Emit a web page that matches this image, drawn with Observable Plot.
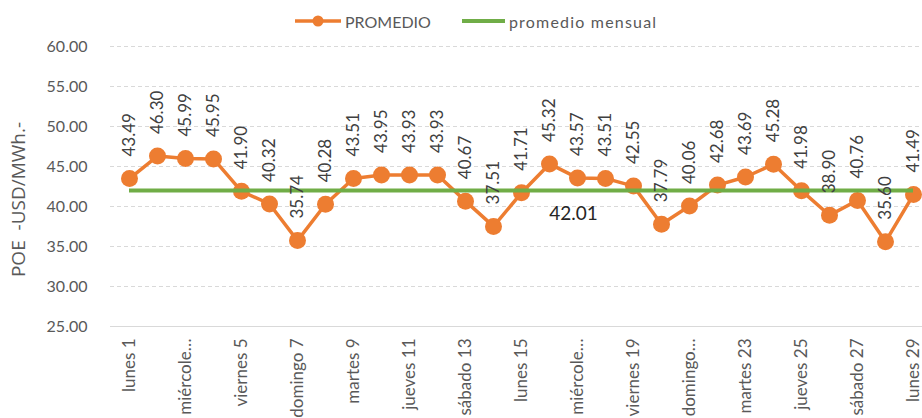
<!DOCTYPE html>
<html>
<head>
<meta charset="utf-8">
<script src="https://cdn.jsdelivr.net/npm/d3@7"></script>
<script src="https://cdn.jsdelivr.net/npm/@observablehq/plot@0.6"></script>
<style>
  body { margin: 0; background: #fff; font-family: Lato, "Open Sans", sans-serif; }
  #wrap { position: relative; width: 922px; height: 418px; overflow: hidden; }
  #legend { position: absolute; top: 8px; left: 295px; display: flex; align-items: center; font-size: 16px; color: #595959; height: 26px; }
  .item { display: flex; align-items: center; }
  #chart { position: absolute; top: 36px; left: 0; }
</style>
</head>
<body>
<div id="wrap">
  <div id="legend">
    <div class="item">
      <svg width="46" height="16"><line x1="0" x2="46" y1="8" y2="8" stroke="#ED7D31" stroke-width="3.5"/><circle cx="23" cy="8" r="5.5" fill="#ED7D31"/></svg>
      <span style="margin-left:4px">PROMEDIO</span>
    </div>
    <div class="item" style="margin-left:31px">
      <svg width="43" height="16"><line x1="0" x2="43" y1="8" y2="8" stroke="#70AD47" stroke-width="4"/></svg>
      <span style="margin-left:4px;letter-spacing:1.2px">promedio mensual</span>
    </div>
  </div>
  <div id="chart"></div>
</div>
<script>
const days = [1,2,3,4,5,6,7,8,9,10,11,12,13,14,15,16,17,18,19,20,21,22,23,24,25,26,27,28,29];
const promedio = [43.49,46.30,45.99,45.95,41.90,40.32,35.74,40.28,43.51,43.95,43.93,43.93,40.67,37.51,41.71,45.32,43.57,43.51,42.55,37.79,40.06,42.68,43.69,45.28,41.98,38.90,40.76,35.60,41.49];
const promedioMensual = 42.01;
const dayLabels = ["lunes 1","martes 2","miércole…","jueves 4","viernes 5","sábado 6","domingo 7","lunes 8","martes 9","miércoles 10","jueves 11","viernes 12","sábado 13","domingo 14","lunes 15","martes 16","miércole…","jueves 18","viernes 19","sábado 20","domingo…","lunes 22","martes 23","miércoles 24","jueves 25","viernes 26","sábado 27","domingo 28","lunes 29"];
const shownDays = [1,3,5,7,9,11,13,15,17,19,21,23,25,27,29];
const yTicks = [25,30,35,40,45,50,55,60];
const yTitle = "POE\u00a0\u00a0-USD/MWh.-";
const mensualLabelDay = 17;

const data = days.map((d, i) => ({day: d, value: promedio[i]}));
const fmt = v => v.toFixed(2);

const chart = Plot.plot({
  width: 922,
  height: 382,
  marginLeft: 110,
  marginRight: 0,
  marginTop: 10,
  marginBottom: 92,
  style: {fontFamily: "Lato, 'Open Sans', sans-serif", background: "transparent", overflow: "visible"},
  x: {type: "point", domain: days, range: [124, 917], padding: 0, axis: null},
  y: {domain: [25, 60], axis: null},
  marks: [
    Plot.ruleY(yTicks.filter(t => t !== 25), {stroke: "#D9D9D9", strokeWidth: 1, strokeDasharray: "4,3"}),
    Plot.ruleY([25], {stroke: "#D9D9D9", strokeWidth: 1}),
    Plot.text(yTicks, {y: d => d, text: d => fmt(d), frameAnchor: "left", textAnchor: "end", dx: -23, fontSize: 16, fill: "#595959"}),
    Plot.text([yTitle], {frameAnchor: "left", textAnchor: "middle", lineAnchor: "middle", rotate: -90, dx: -92, dy: 13, fontSize: 19, fontFamily: "'Open Sans', sans-serif", fill: "#595959"}),
    Plot.text(shownDays, {x: d => d, text: d => dayLabels[d - 1], frameAnchor: "bottom", rotate: -90, textAnchor: "end", lineAnchor: "middle", dy: 12, fontSize: 17, fill: "#595959"}),
    Plot.line(data, {x: "day", y: "value", stroke: "#ED7D31", strokeWidth: 3.5}),
    Plot.dot(data, {x: "day", y: "value", r: 8.5, fill: "#ED7D31", stroke: "none"}),
    Plot.ruleY([promedioMensual], {x1: days[0], x2: days[days.length - 1], stroke: "#70AD47", strokeWidth: 4}),
    Plot.text(data, {x: "day", y: "value", text: d => fmt(d.value), rotate: -90, textAnchor: "start", lineAnchor: "middle", dy: -22, fontSize: 17, fill: "#404040"}),
    Plot.text([promedioMensual], {x: () => mensualLabelDay, y: d => d, text: d => fmt(d), dy: 23, dx: -4, fontSize: 19, fill: "#262626"})
  ]
});
document.getElementById("chart").appendChild(chart);
</script>
</body>
</html>
